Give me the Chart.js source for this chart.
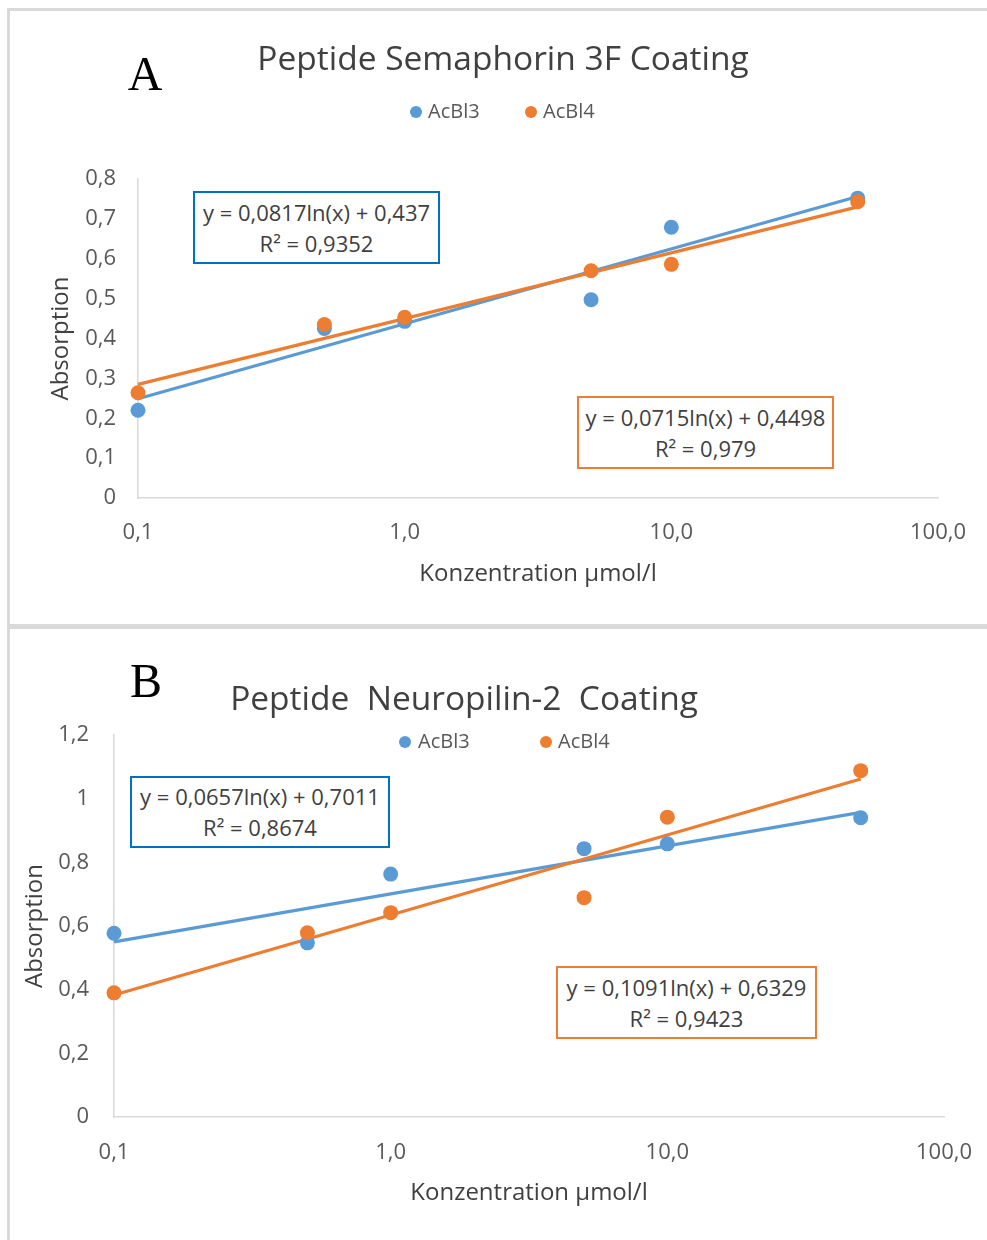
<!DOCTYPE html>
<html>
<head>
<meta charset="utf-8">
<script src="https://cdn.jsdelivr.net/npm/chart.js@4.4.1/dist/chart.umd.min.js"></script>
<style>
html,body{margin:0;padding:0;background:#fff;}
body{width:987px;height:1240px;position:relative;overflow:hidden;font-family:"Open Sans",sans-serif;color:#404040;}
.bar{position:absolute;background:#D9D9D9;}
.cv{position:absolute;}
.c{position:absolute;transform:translate(-50%,-50%);white-space:nowrap;line-height:1;}
.letter{font-family:"Liberation Serif","Times New Roman",serif;font-size:48px;color:#000;}
.title{font-size:33.5px;color:#404040;}
.leg{position:absolute;transform:translateY(-50%);white-space:nowrap;line-height:1;font-size:20px;color:#595959;}
.dot{position:absolute;width:12px;height:12px;border-radius:50%;transform:translate(-50%,-50%);}
.eq{position:absolute;box-sizing:border-box;border:2px solid;display:flex;flex-direction:column;align-items:center;justify-content:center;font-size:22px;color:#404040;line-height:31px;white-space:nowrap;background:#fff;}
</style>
</head>
<body>
<div class="bar" style="left:7px;top:8px;width:980px;height:3px;"></div>
<div class="bar" style="left:7px;top:8px;width:3px;height:1232px;"></div>
<div class="bar" style="left:7px;top:624px;width:980px;height:5px;"></div>

<canvas id="chartA" class="cv" width="977" height="613" style="left:10px;top:11px;"></canvas>
<canvas id="chartB" class="cv" width="977" height="611" style="left:10px;top:629px;"></canvas>

<div class="c letter" style="left:145px;top:74px;">A</div>
<div class="c title" style="left:503px;top:58px;">Peptide Semaphorin 3F Coating</div>
<div class="dot" style="left:416px;top:112px;background:#5B9BD5;"></div>
<div class="leg" style="left:428px;top:111px;">AcBl3</div>
<div class="dot" style="left:531px;top:112px;background:#ED7D31;"></div>
<div class="leg" style="left:543px;top:111px;">AcBl4</div>
<div class="eq" style="left:193px;top:191px;width:247px;height:73px;border-color:#0070C0;"><div>y = 0,0817ln(x) + 0,437</div><div>R² = 0,9352</div></div>
<div class="eq" style="left:577px;top:396px;width:257px;height:73px;border-color:#ED7D31;"><div>y = 0,0715ln(x) + 0,4498</div><div>R² = 0,979</div></div>

<div class="c letter" style="left:146px;top:681px;">B</div>
<div class="c title" style="left:464px;top:698px;">Peptide&nbsp; Neuropilin-2&nbsp; Coating</div>
<div class="dot" style="left:405px;top:742px;background:#5B9BD5;"></div>
<div class="leg" style="left:418px;top:741px;">AcBl3</div>
<div class="dot" style="left:546px;top:742px;background:#ED7D31;"></div>
<div class="leg" style="left:558px;top:741px;">AcBl4</div>
<div class="eq" style="left:130px;top:776px;width:260px;height:72px;border-color:#0070C0;"><div>y = 0,0657ln(x) + 0,7011</div><div>R² = 0,8674</div></div>
<div class="eq" style="left:556px;top:966px;width:261px;height:73px;border-color:#ED7D31;"><div>y = 0,1091ln(x) + 0,6329</div><div>R² = 0,9423</div></div>

<script>
// ---- data ----
const concentrations = [0.1, 0.5, 1, 5, 10, 50];
const semaAcBl3 = [0.22, 0.425, 0.443, 0.497, 0.679, 0.752];
const semaAcBl4 = [0.264, 0.435, 0.453, 0.57, 0.586, 0.743];
const neuroAcBl3 = [0.577, 0.547, 0.763, 0.843, 0.858, 0.94];
const neuroAcBl4 = [0.39, 0.579, 0.642, 0.689, 0.942, 1.088];
// trendline end points (log fits shown in the picture)
const trendX = [0.1, 50];
const semaTrend3 = [0.249, 0.756];
const semaTrend4 = [0.285, 0.730];
const neuroTrend3 = [0.550, 0.957];
const neuroTrend4 = [0.383, 1.062];
const xTickValues = [0.1, 1, 10, 100];
const seriesNames = ['AcBl3', 'AcBl4'];
const xTitle = 'Konzentration µmol/l';
const yTitle = 'Absorption';

const BLUE = '#5B9BD5', ORANGE = '#ED7D31';
const pts = (xs, ys) => xs.map((x, i) => ({x: x, y: ys[i]}));
const fmtDec = v => (Math.round(v * 10) / 10).toString().replace('.', ',');

function makeChart(id, cfg) {
  const datasets = [
    {type:'scatter', label: seriesNames[1], data: pts(concentrations, cfg.s4), backgroundColor: ORANGE, borderWidth:0, pointRadius:7.5, pointHoverRadius:7.5, order:0, clip:false},
    {type:'scatter', label: seriesNames[0], data: pts(concentrations, cfg.s3), backgroundColor: BLUE, borderWidth:0, pointRadius:7.5, pointHoverRadius:7.5, order:1, clip:false},
    {type:'line', label: seriesNames[1] + ' trend', data: pts(trendX, cfg.t4), borderColor: ORANGE, borderWidth:3.2, pointRadius:0, fill:false, order:2, clip:false},
    {type:'line', label: seriesNames[0] + ' trend', data: pts(trendX, cfg.t3), borderColor: BLUE, borderWidth:3.2, pointRadius:0, fill:false, order:3, clip:false}
  ];
  return new Chart(document.getElementById(id), {
    type: 'scatter',
    data: { datasets },
    options: {
      responsive: false,
      animation: false,
      devicePixelRatio: 1,
      layout: { padding: { left: 0, right: cfg.padRight, top: cfg.padTop, bottom: 0 } },
      plugins: { legend: { display: false }, title: { display: false }, tooltip: { enabled: false } },
      scales: {
        x: {
          type: 'logarithmic', min: 0.1, max: 100,
          grid: { display: false, drawTicks: false },
          border: { display: true, color: '#D9D9D9', width: 1.5 },
          afterBuildTicks: s => { s.ticks = xTickValues.map(v => ({value: v})); },
          afterFit: s => { s.height = cfg.xHeight; s.paddingLeft = 0; s.paddingRight = 0; },
          ticks: { autoSkip: false, maxRotation: 0, padding: cfg.xTickPad, color: '#595959',
                   font: { family: 'Open Sans', size: 22 },
                   callback: v => v.toFixed(1).replace('.', ',') },
          title: { display: true, text: xTitle, color: '#404040', font: { family: 'Open Sans', size: 24 },
                   padding: { top: 0, bottom: cfg.xTitlePad } }
        },
        y: {
          min: 0, max: cfg.yMax,
          grid: { display: false, drawTicks: false },
          border: { display: true, color: '#D9D9D9', width: 1.5 },
          afterFit: s => { s.width = cfg.yWidth; s.paddingTop = 0; s.paddingBottom = 0; },
          ticks: { stepSize: cfg.yStep, padding: cfg.yTickPad, color: '#595959',
                   font: { family: 'Open Sans', size: 22 }, callback: v => fmtDec(v) },
          title: { display: true, text: yTitle, color: '#404040', font: { family: 'Open Sans', size: 24 },
                   padding: { top: cfg.yTitlePad, bottom: 0 } }
        }
      }
    }
  });
}

makeChart('chartA', { s3: semaAcBl3, s4: semaAcBl4, t3: semaTrend3, t4: semaTrend4,
  yMax: 0.8, yStep: 0.1, padRight: 49, padTop: 168, xHeight: 126, yWidth: 128,
  xTickPad: 22, yTickPad: 22, xTitlePad: 35.6, yTitlePad: 36.6 });
makeChart('chartB', { s3: neuroAcBl3, s4: neuroAcBl4, t3: neuroTrend3, t4: neuroTrend4,
  yMax: 1.2, yStep: 0.2, padRight: 43, padTop: 106, xHeight: 123, yWidth: 104,
  xTickPad: 23, yTickPad: 25, xTitlePad: 32.6, yTitlePad: 10.6 });
</script>
</body>
</html>
